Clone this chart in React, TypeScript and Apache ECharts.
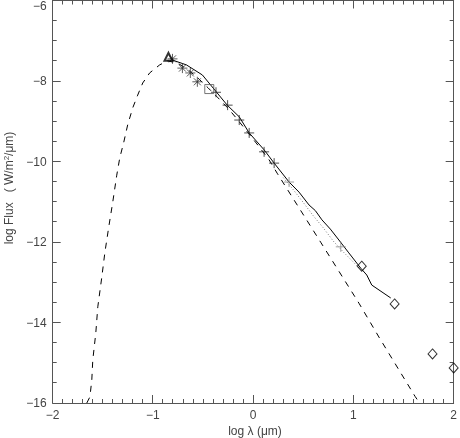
import React, { useEffect, useRef } from "react";
import * as echarts from "echarts";

// Blackbody-like model (dashed)
const modelX = [-1.66, -1.629, -1.61, -1.6, -1.57, -1.55, -1.51, -1.48, -1.441, -1.401, -1.361, -1.331, -1.291, -1.252, -1.202, -1.152, -1.102, -1.033, -0.933, -0.854, -0.75, -0.65, -0.55, -0.45, -0.35, -0.25, -0.159, 0.03, 0.159, 0.239, 0.677, 1.055, 1.254, 1.616, 1.66];
const modelY = [-16.0, -15.85, -15.43, -14.93, -14.26, -13.61, -12.87, -12.27, -11.63, -11.01, -10.34, -9.91, -9.52, -9.09, -8.67, -8.35, -8.05, -7.8, -7.6, -7.5, -7.56, -7.72, -7.93, -8.17, -8.42, -8.68, -8.95, -9.54, -9.96, -10.29, -12.02, -13.52, -14.36, -15.84, -16.0];

// Observed spectrum (solid)
const specX = [-0.805, -0.666, -0.507, -0.368, -0.259, -0.139, -0.04, 0.109, 0.209, 0.358, 0.457, 0.557, 0.62, 0.686, 0.77, 0.855, 0.954, 1.073, 1.133, 1.183, 1.372];
const specY = [-7.48, -7.6, -7.85, -8.27, -8.6, -8.89, -9.29, -9.71, -10.04, -10.51, -10.76, -11.08, -11.22, -11.45, -11.68, -11.95, -12.27, -12.65, -12.82, -13.07, -13.39];

// Second spectrum (dotted)
const dotX = [0.3, 0.4, 0.5, 0.6, 0.7, 0.8, 0.9, 1.0, 1.07];
const dotY = [-10.4, -10.7, -11.02, -11.35, -11.65, -11.98, -12.25, -12.5, -12.68];

// Photometry
const triX = [-0.845];
const triY = [-7.4];
const starX = [-0.805, -0.706, -0.627, -0.557];
const starY = [-7.45, -7.68, -7.8, -8.02];
const squareX = [-0.438];
const squareY = [-8.2];
const plusX = [-0.371, -0.255, -0.139, -0.04, 0.109, 0.209];
const plusY = [-8.28, -8.6, -8.97, -9.29, -9.76, -10.04];
const plusGrayX = [0.358, 0.874];
const plusGrayY = [-10.51, -12.12];
const diamondX = [1.083, 1.411, 1.789, 2.0];
const diamondY = [-12.6, -13.54, -14.78, -15.13];

// Axis ticks
const xMin = -2, xMax = 2, xStep = 1, xMinorSplit = 10;
const yMin = -16, yMax = -6, yStep = 2, yMinorSplit = 4;

const zip = (xs: number[], ys: number[]) => xs.map((x, i) => [x, ys[i]]);

const AXIS_COLOR = "#555";
const TEXT_COLOR = "#444";
const FONT = "'Liberation Sans', Arial, sans-serif";

const minus = (v: number) => (v < 0 ? "\u2212" + Math.abs(v) : String(v));
const yFmt = (v: number) => (v === yMax ? "{top|" + minus(v) + "}" : minus(v));

export default function App() {
  const ref = useRef<HTMLDivElement>(null);
  useEffect(() => {
    if (!ref.current) return;
    const chart = echarts.init(ref.current, undefined, { renderer: "svg" });
    const asterisk = "path://M0,5L10,5M5,0L5,10M1.5,1.5L8.5,8.5M8.5,1.5L1.5,8.5";
    const plus = "path://M0,5L10,5M5,0L5,10";
    const xAx = (pos: string, labels: boolean) => ({
      gridIndex: 0, type: "value", min: xMin, max: xMax, interval: xStep, position: pos,
      axisLine: { show: true, onZero: false, lineStyle: { color: AXIS_COLOR, width: 1 } },
      axisTick: { show: false },
      minorTick: { show: false },
      splitLine: { show: false },
      minorSplitLine: { show: false },
      axisLabel: labels
        ? { show: true, color: TEXT_COLOR, fontFamily: FONT, fontSize: 12, margin: 6, formatter: minus }
        : { show: false },
    });
    const yAx = (pos: string, labels: boolean) => ({
      gridIndex: 0, type: "value", min: yMin, max: yMax, interval: yStep, position: pos,
      axisLine: { show: true, onZero: false, lineStyle: { color: AXIS_COLOR, width: 1 } },
      axisTick: { show: false },
      minorTick: { show: false },
      splitLine: { show: false },
      minorSplitLine: { show: false },
      axisLabel: labels
        ? {
            show: true, color: TEXT_COLOR, fontFamily: FONT, fontSize: 12, margin: 6, formatter: yFmt,
            rich: { top: { color: TEXT_COLOR, fontFamily: FONT, fontSize: 12, padding: [11, 0, 0, 0] } },
          }
        : { show: false },
    });

    // inward ticks on all four sides, placed through the axes' own scales
    const tickRender = (_params: any, api: any) => {
      const children: any[] = [];
      const push = (x1: number, y1: number, x2: number, y2: number) =>
        children.push({ type: "line", shape: { x1, y1, x2, y2 }, style: { stroke: AXIS_COLOR, lineWidth: 1 } });
      const nx = Math.round(((xMax - xMin) / xStep) * xMinorSplit);
      for (let i = 0; i <= nx; i++) {
        const v = xMin + (i * xStep) / xMinorSplit;
        const len = i % xMinorSplit === 0 ? 8 : 4;
        const pb = api.coord([v, yMin]);
        const pt = api.coord([v, yMax]);
        const px = Math.round(pb[0] - 0.5) + 0.5;
        push(px, pb[1], px, pb[1] - len);
        push(px, pt[1], px, pt[1] + len);
      }
      const ny = Math.round(((yMax - yMin) / yStep) * yMinorSplit);
      for (let i = 0; i <= ny; i++) {
        const v = yMin + (i * yStep) / yMinorSplit;
        const len = i % yMinorSplit === 0 ? 8 : 4;
        const pl = api.coord([xMin, v]);
        const pr = api.coord([xMax, v]);
        const py = Math.round(pl[1] - 0.5) + 0.5;
        push(pl[0], py, pl[0] + len, py);
        push(pr[0], py, pr[0] - len, py);
      }
      return { type: "group", children };
    };

    chart.setOption({
      animation: false,
      grid: [{ left: 52.7, right: 4.5, top: 0.5, bottom: 35 }],
      xAxis: [xAx("bottom", true), xAx("top", false)],
      yAxis: [yAx("left", true), yAx("right", false)],
      graphic: [
        {
          type: "text", x: 255, y: 431,
          style: { text: "log \u03bb (\u03bcm)", fill: TEXT_COLOR, font: `12px ${FONT}`, align: "center", verticalAlign: "middle" },
        },
        {
          type: "text", x: 9, y: 188, rotation: Math.PI / 2,
          style: {
            text: "{a|log Flux   ( W/m}{s|2}{a|/\u03bcm)}",
            align: "center", verticalAlign: "middle",
            rich: {
              a: { fill: TEXT_COLOR, font: `12px ${FONT}` },
              s: { fill: TEXT_COLOR, font: `8px ${FONT}`, verticalAlign: "top", padding: [0, 0, 6, 0] },
            },
          },
        },
      ],
      series: [
        {
          type: "custom", xAxisIndex: 0, yAxisIndex: 0, data: [[xMin, yMin]], renderItem: tickRender,
          clip: false, silent: true, z: 1,
        },
        {
          type: "line", xAxisIndex: 0, yAxisIndex: 0, data: zip(modelX, modelY), showSymbol: false, symbol: "none",
          lineStyle: { color: "#000", width: 1, type: [6, 6] }, z: 2,
        },
        {
          type: "line", xAxisIndex: 0, yAxisIndex: 0, data: zip(dotX, dotY), showSymbol: false, symbol: "none",
          lineStyle: { color: "#777", width: 1, type: [1, 2] }, z: 2,
        },
        {
          type: "line", xAxisIndex: 0, yAxisIndex: 0, data: zip(specX, specY), showSymbol: false, symbol: "none",
          lineStyle: { color: "#000", width: 1 }, z: 3,
        },
        {
          type: "scatter", xAxisIndex: 0, yAxisIndex: 0, data: zip(starX, starY), symbol: asterisk, symbolSize: 10,
          itemStyle: { color: "transparent", borderColor: "#333", borderWidth: 1 }, z: 4,
        },
        {
          type: "scatter", xAxisIndex: 0, yAxisIndex: 0, data: zip(plusX, plusY), symbol: plus, symbolSize: 10,
          itemStyle: { color: "transparent", borderColor: "#222", borderWidth: 1 }, z: 4,
        },
        {
          type: "scatter", xAxisIndex: 0, yAxisIndex: 0, data: zip(plusGrayX, plusGrayY), symbol: plus, symbolSize: 10,
          itemStyle: { color: "transparent", borderColor: "#888", borderWidth: 1 }, z: 4,
        },
        {
          type: "scatter", xAxisIndex: 0, yAxisIndex: 0, data: zip(squareX, squareY), symbol: "rect", symbolSize: 9,
          itemStyle: { color: "transparent", borderColor: "#555", borderWidth: 1 }, z: 4,
        },
        {
          type: "scatter", xAxisIndex: 0, yAxisIndex: 0, data: zip(triX, triY), symbol: "triangle", symbolSize: 8,
          itemStyle: { color: "transparent", borderColor: "#000", borderWidth: 2 }, z: 5,
        },
        {
          type: "scatter", xAxisIndex: 0, yAxisIndex: 0, data: zip(diamondX, diamondY), symbol: "diamond", symbolSize: [9, 10],
          itemStyle: { color: "transparent", borderColor: "#000", borderWidth: 1 }, z: 4, clip: true,
        },
      ],
    });
    return () => chart.dispose();
  }, []);
  return <div ref={ref} style={{ position: "fixed", left: 0, top: 0, width: 460, height: 438 }} />;
}
